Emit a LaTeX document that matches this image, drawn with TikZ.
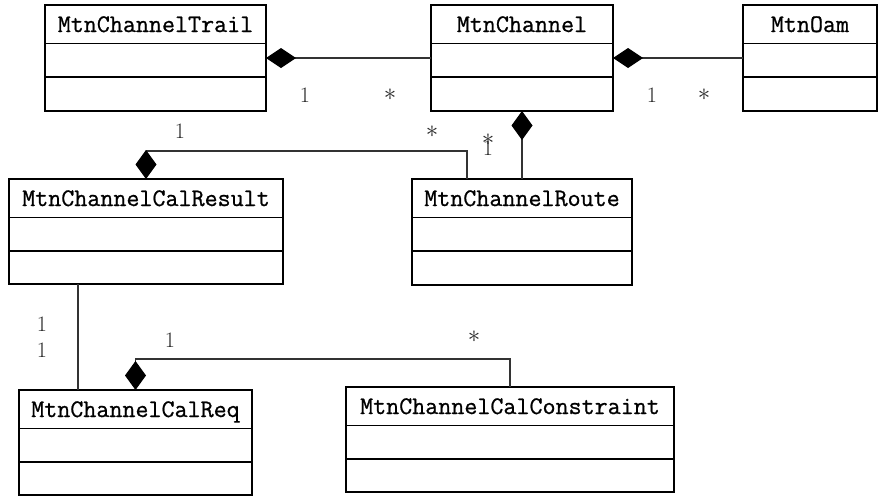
\documentclass[tikz,border=0pt]{standalone}
\usepackage{fontspec}
\usetikzlibrary{arrows.meta}

% class names in a slightly emboldened typewriter face
\newfontfamily\clsfont[FakeBold=0.8]{Latin Modern Mono}

\tikzset{
  cls/.style={draw, line width=1.8pt, anchor=north west, inner sep=0pt, outer sep=0pt},
  ttl/.style={anchor=base, inner sep=0pt, font=\clsfont\fontsize{25.3}{30}\selectfont},
  div/.style={line width=1.8pt},
  link/.style={line width=1.1pt, draw=black!80},
  comp/.style={link, {Diamond[length=30pt,width=20pt,color=black]}-},
  vcomp/.style={link, {Diamond[length=29pt,width=21pt,color=black]}-},
  mult/.style={inner sep=0pt, text=black!85, font=\fontsize{22}{26}\selectfont},
  star/.style={mult, font=\fontsize{24}{27}\selectfont},
}

% UML class: name, left, top, width, height, title
\newcommand\classbox[6]{%
  \node[cls, minimum width=#4pt, minimum height=#5pt] (#1) at (#2,#3) {};
  \node[ttl] (#1-title) at ([yshift=-27pt]#1.north) {#6};
  \draw[div] ([yshift=-38.5pt]#1.north west) -- ([yshift=-38.5pt]#1.north east);
  \draw[div] ([yshift=-72pt]#1.north west) -- ([yshift=-72pt]#1.north east);
}

\begin{document}
\begin{tikzpicture}[x=1pt, y=-1pt]
  \useasboundingbox (0,0) rectangle (878,496);

  % classes
  \classbox{trail}{45}{5}{221}{106}{MtnChannelTrail}
  \classbox{channel}{431}{5}{182}{106}{MtnChannel}
  \classbox{oam}{743}{5}{134}{106}{MtnOam}
  \classbox{calres}{9}{179}{274}{105}{MtnChannelCalResult}
  \classbox{route}{412}{179}{220}{106}{MtnChannelRoute}
  \classbox{calreq}{19}{390}{233}{105}{MtnChannelCalReq}
  \classbox{constraint}{346}{387}{328}{105}{MtnChannelCalConstraint}

  % bend points of the routed connectors
  \coordinate (bendA) at (467,151);
  \coordinate (bendB) at (510,359);
  \coordinate (colC) at (78,0);

  % compositions and association
  \draw[comp] (trail.east) -- (channel.west);
  \draw[comp] (channel.east) -- (oam.west);
  \draw[vcomp] (channel.south) -- (route.north);
  \draw[vcomp] (calres.north) |- (bendA) -- (bendA |- route.north);
  \draw[vcomp] (calreq.north) |- (bendB) -- (bendB |- constraint.north);
  \draw[link] (calres.south -| colC) -- (calreq.north -| colC);

  % multiplicities
  \node[mult] (m-trail) at (305,95) {1};
  \node[star] (m-chan-a) at (390,95) {$\ast$};
  \node[mult] (m-chan-b) at (652,95) {1};
  \node[star] (m-oam) at (704,95) {$\ast$};
  \node[mult] (m-res-a) at (180,131) {1};
  \node[star] (m-route-a) at (432,132) {$\ast$};
  \node[star] (m-route-b) at (488,140) {$\ast$};
  \node[mult] (m-chan-c) at (488,148) {1};
  \node[mult] (m-res-b) at (42,324) {1};
  \node[mult] (m-req-a) at (42,350) {1};
  \node[mult] (m-req-b) at (170,340) {1};
  \node[star] (m-cons) at (474,337) {$\ast$};
\end{tikzpicture}
\end{document}
